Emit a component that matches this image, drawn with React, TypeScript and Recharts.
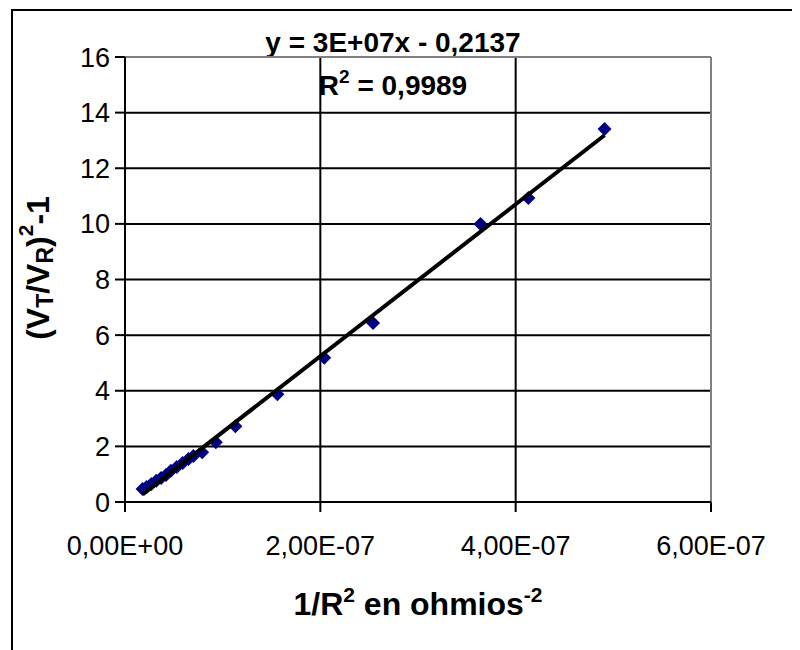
import React from 'react';
import { ScatterChart, Scatter, XAxis, YAxis, CartesianGrid, ReferenceLine } from 'recharts';

// 1/R^2 (ohm^-2) and (VT/VR)^2 - 1
const X_VALUES = [
  1.8e-8, 2.2e-8, 2.7e-8, 3.2e-8, 3.7e-8, 4.2e-8, 4.7e-8, 5.3e-8, 5.9e-8, 6.5e-8,
  7.0e-8, 7.9e-8, 9.3e-8, 1.13e-7, 1.56e-7, 2.04e-7, 2.54e-7, 3.64e-7, 4.13e-7, 4.91e-7,
];
const Y_VALUES = [
  0.47, 0.54, 0.65, 0.76, 0.86, 0.97, 1.12, 1.26, 1.4, 1.55,
  1.65, 1.79, 2.15, 2.72, 3.87, 5.19, 6.44, 10.0, 10.93, 13.41,
];

const X_TICKS = [0, 2e-7, 4e-7, 6e-7];
const X_TICK_LABELS = ['0,00E+00', '2,00E-07', '4,00E-07', '6,00E-07'];
const Y_TICKS = [0, 2, 4, 6, 8, 10, 12, 14, 16];

const EQUATION_TEXT = 'y = 3E+07x - 0,2137';
const R2_TEXT = ' = 0,9989';

const FONT = "'Liberation Sans', Arial, sans-serif";

const points = X_VALUES.map((x, i) => ({ x, y: Y_VALUES[i] }));

// least squares trend line over the data range
const n = points.length;
const mx = X_VALUES.reduce((a, b) => a + b, 0) / n;
const my = Y_VALUES.reduce((a, b) => a + b, 0) / n;
let sxy = 0;
let sxx = 0;
points.forEach((p) => {
  sxy += (p.x - mx) * (p.y - my);
  sxx += (p.x - mx) * (p.x - mx);
});
const slope = sxy / sxx;
const intercept = my - slope * mx;
const xMin = Math.min(...X_VALUES);
const xMax = Math.max(...X_VALUES);
const trend = [
  { x: xMin, y: slope * xMin + intercept },
  { x: xMax, y: slope * xMax + intercept },
];

const Diamond = (props: any) => {
  const { cx, cy } = props;
  const r = 7;
  return (
    <polygon
      points={`${cx},${cy - r} ${cx + r},${cy} ${cx},${cy + r} ${cx - r},${cy}`}
      fill="#000080"
    />
  );
};

const NoDot = () => <g />;

export default function App() {
  return (
    <div
      style={{
        position: 'relative',
        width: 800,
        height: 650,
        marginLeft: -8,
        marginTop: -8,
        overflow: 'hidden',
        background: '#fff',
      }}
    >
      {/* outer chart-area frame, runs off the right and bottom edges */}
      <div
        style={{
          position: 'absolute',
          left: 11,
          top: 9,
          width: 2000,
          height: 2000,
          border: '2px solid #000',
        }}
      />
      <div style={{ position: 'absolute', left: 8, top: 8 }}>
        <ScatterChart width={792} height={634} margin={{ top: 49, right: 89, left: 37, bottom: 80 }}>
          <CartesianGrid stroke="#000" strokeWidth={2} />
          <ReferenceLine y={16} stroke="#808080" strokeWidth={2} />
          <ReferenceLine x={6e-7} stroke="#808080" strokeWidth={2} />
          <XAxis
            type="number"
            dataKey="x"
            domain={[0, 6e-7]}
            ticks={X_TICKS}
            interval={0}
            tickFormatter={(v: number) => X_TICK_LABELS[X_TICKS.indexOf(v)] ?? ''}
            height={60}
            tickSize={10}
            tickMargin={24}
            axisLine={{ stroke: '#000', strokeWidth: 2 }}
            tickLine={{ stroke: '#000', strokeWidth: 2 }}
            tick={{ fill: '#000', fontSize: 27, fontFamily: FONT }}
          />
          <YAxis
            type="number"
            dataKey="y"
            domain={[0, 16]}
            ticks={Y_TICKS}
            interval={0}
            width={80}
            tickSize={10}
            tickMargin={5}
            axisLine={{ stroke: '#000', strokeWidth: 2 }}
            tickLine={{ stroke: '#000', strokeWidth: 2 }}
            tick={{ fill: '#000', fontSize: 27, fontFamily: FONT }}
          />
          <Scatter data={points} shape={Diamond} isAnimationActive={false} />
          <Scatter
            data={trend}
            line={{ stroke: '#000', strokeWidth: 4 }}
            shape={NoDot}
            isAnimationActive={false}
          />
          <text x={385} y={44} textAnchor="middle" fontFamily={FONT} fontSize={28} fontWeight="bold" fill="#000">
            {EQUATION_TEXT}
          </text>
          <text x={385} y={87} textAnchor="middle" fontFamily={FONT} fontSize={28} fontWeight="bold" fill="#000">
            R
            <tspan fontSize={19} dy={-12}>2</tspan>
            <tspan dy={12}>{R2_TEXT}</tspan>
          </text>
          <text x={410} y={607} textAnchor="middle" fontFamily={FONT} fontSize={32} fontWeight="bold" fill="#000">
            1/R
            <tspan fontSize={21} dy={-13}>2</tspan>
            <tspan dy={13}> en ohmios</tspan>
            <tspan fontSize={21} dy={-13}>-2</tspan>
          </text>
          <text
            x={30}
            y={260}
            transform="rotate(-90, 30, 260)"
            textAnchor="middle"
            dominantBaseline="central"
            fontFamily={FONT}
            fontSize={32}
            fontWeight="bold"
            fill="#000"
          >
            (V
            <tspan fontSize={23} dy={7}>T</tspan>
            <tspan dy={-7}>/V</tspan>
            <tspan fontSize={23} dy={7}>R</tspan>
            <tspan dy={-7}>)</tspan>
            <tspan fontSize={21} dy={-13}>2</tspan>
            <tspan dy={13}>-1</tspan>
          </text>
        </ScatterChart>
      </div>
    </div>
  );
}
